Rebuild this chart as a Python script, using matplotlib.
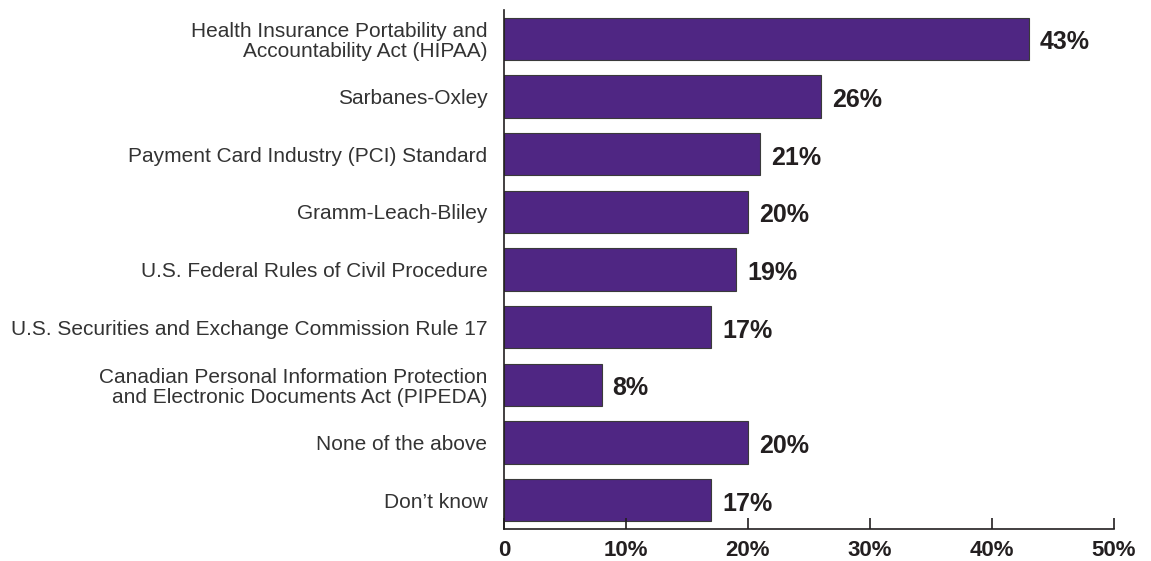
import matplotlib
matplotlib.use("Agg")
import matplotlib.pyplot as plt

categories = [
    "Health Insurance Portability and\nAccountability Act (HIPAA)",
    "Sarbanes-Oxley",
    "Payment Card Industry (PCI) Standard",
    "Gramm-Leach-Bliley",
    "U.S. Federal Rules of Civil Procedure",
    "U.S. Securities and Exchange Commission Rule 17",
    "Canadian Personal Information Protection\nand Electronic Documents Act (PIPEDA)",
    "None of the above",
    "Don\u2019t know",
]
values = [43, 26, 21, 20, 19, 17, 8, 20, 17]
xticks = [0, 10, 20, 30, 40, 50]
xtick_labels = ["0", "10%", "20%", "30%", "40%", "50%"]

plt.rcParams['font.family'] = ['Liberation Sans', 'DejaVu Sans']

W, H = 1151, 561
fig = plt.figure(figsize=(W / 100, H / 100), dpi=100)
ax = fig.add_axes([504 / W, 1 - 529 / H, (1114 - 504) / W, (529 - 10) / H])

y = list(range(len(categories)))
ax.barh(y, values, height=0.73, color="#4F2683", edgecolor="#3a3a3a", linewidth=0.8)
ax.set_ylim(len(categories) - 0.5, -0.5)
ax.set_xlim(0, 50)

for yi, v in zip(y, values):
    ax.annotate(f"{v}%", (v, yi), xytext=(8, -2.5), textcoords="offset points",
                va="center", ha="left", fontsize=18, fontweight="bold", color="#231f20")

ax.set_yticks(y)
ax.set_yticklabels(categories, fontsize=15, color="#333333", linespacing=1.1)
ax.tick_params(axis="y", length=0, pad=12)

ax.set_xticks(xticks)
ax.set_xticklabels(xtick_labels, fontsize=16, fontweight="bold", color="#231f20")
ax.tick_params(axis="x", direction="in", length=8, width=1.2, color="#231f20", pad=8)

for s in ["top", "right"]:
    ax.spines[s].set_visible(False)
for s in ["left", "bottom"]:
    ax.spines[s].set_color("#231f20")
    ax.spines[s].set_linewidth(1.2)

fig.savefig("out.png", dpi=100, facecolor="white")
